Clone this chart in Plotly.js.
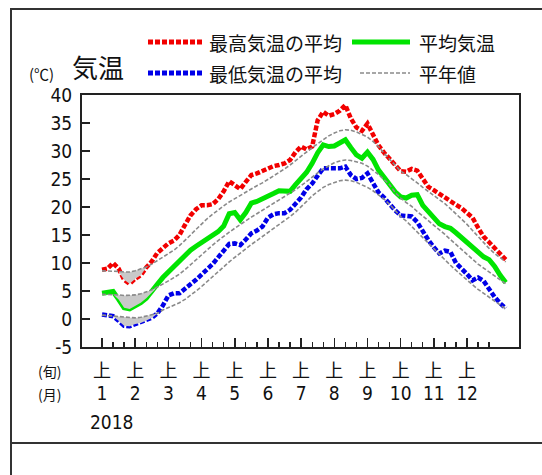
<!DOCTYPE html>
<html>
<head>
<meta charset="utf-8">
<script src="https://cdn.plot.ly/plotly-3.0.1.min.js"></script>
<style>
  html, body { margin:0; padding:0; background:#fff; }
  #wrap { position:relative; width:542px; height:475px; overflow:hidden; }
  #chart { position:absolute; left:0; top:0; width:542px; height:475px; }
  .ln { position:absolute; background:#333; }
</style>
</head>
<body>
<div id="wrap">
  <div class="ln" style="left:10px; top:8px; width:2px; height:467px;"></div>
  <div class="ln" style="left:10px; top:8px; width:532px; height:2px;"></div>
  <div class="ln" style="left:10px; top:442px; width:532px; height:2px;"></div>
  <div id="chart"></div>
</div>
<script>
// 旬 position (0 = 1月上旬), half-旬 steps
const jun = [0,0.5,1,1.5,2,2.5,3,3.5,4,4.5,5,5.5,6,6.5,7,7.5,8,8.5,9,9.5,
  10,10.5,11,11.5,12,12.5,13,13.5,14,14.5,15,15.5,16,16.5,17,17.5,18,18.5,19,19.5,
  20,20.5,21,21.5,22,22.5,23,23.5,24,24.5,25,25.5,26,26.5,27,27.5,28,28.5,29,29.5,
  30,30.5,31,31.5,32,32.5,33,33.5,34,34.5,35,35.5,36,36.5];

// 最高気温の平均
const tmax = [8.8,9.0,10.0,9.0,7.0,6.3,7.2,7.8,9.2,10.3,
  11.8,12.6,13.5,14.0,15.0,16.8,18.5,19.6,20.3,20.3,
  20.5,21.4,22.8,24.6,24.0,23.2,24.5,25.7,26.0,26.4,
  27.0,27.3,27.5,27.8,28.4,29.8,30.8,30.3,30.8,35.5,
  37.0,36.3,36.6,37.2,38.2,35.8,34.2,33.6,34.9,33.0,
  31.0,29.7,28.6,27.6,26.4,26.3,26.8,26.5,24.9,23.6,
  23.0,22.3,21.6,20.9,20.4,19.8,19.0,18.1,16.3,14.7,
  13.7,12.7,11.5,10.6];
// 平均気温
const tmean = [4.6,4.7,4.9,3.5,2.0,1.8,2.3,2.9,3.7,4.8,
  6.2,7.4,8.4,9.3,10.3,11.3,12.3,13.0,13.6,14.3,
  14.9,15.6,16.6,18.8,19.0,17.7,19.0,20.7,21.0,21.4,
  21.9,22.4,22.9,22.9,22.8,24.0,25.0,26.2,27.8,29.7,
  31.1,30.8,30.9,31.4,32.0,30.6,29.3,28.7,29.8,28.5,
  26.6,25.3,24.0,22.7,21.8,21.6,22.1,22.2,20.3,19.3,
  18.2,17.0,16.5,16.2,15.4,14.5,13.7,12.8,11.8,11.1,
  10.6,9.4,7.8,6.5];
// 最低気温の平均
const tmin = [0.8,0.7,0.5,-0.3,-1.2,-1.3,-0.9,-0.7,-0.3,0.2,
  1.0,2.4,4.2,4.6,4.6,5.3,6.2,7.0,7.9,8.8,
  9.8,11.0,12.3,13.4,13.5,13.2,14.2,15.3,15.8,16.5,
  18.1,18.7,18.9,18.9,19.5,20.5,21.7,23.2,24.2,25.6,
  26.9,26.9,26.9,26.9,27.2,25.7,25.0,25.2,26.0,24.3,
  22.6,21.7,20.5,19.4,18.5,18.3,18.3,17.3,15.5,14.1,
  12.8,11.7,12.2,12.0,10.0,9.1,8.0,6.9,7.4,6.8,
  5.2,3.9,2.8,1.9];
// 平年値 (最高・平均・最低)
const nmax = [8.6,8.6,8.6,8.5,8.4,8.4,8.6,8.9,9.3,9.8,
  10.4,11.0,11.6,12.3,13.1,14.0,15.0,16.0,17.0,17.9,
  18.7,19.5,20.2,20.9,21.5,22.1,22.7,23.3,23.8,24.3,
  24.9,25.5,26.1,26.8,27.5,28.3,29.1,29.9,30.6,31.3,
  32.0,32.7,33.2,33.6,33.8,33.7,33.4,33.0,32.5,31.7,
  30.8,29.6,28.5,27.5,26.4,25.8,25.1,24.3,23.5,22.8,
  22.1,21.4,20.6,19.7,18.8,17.9,16.9,15.8,14.7,13.6,
  12.6,11.7,10.9,10.2];
const nmean = [4.4,4.4,4.4,4.3,4.2,4.2,4.3,4.5,4.8,5.2,
  5.7,6.2,6.8,7.4,8.0,8.8,9.7,10.6,11.5,12.4,
  13.2,14.0,14.8,15.5,16.2,16.9,17.6,18.2,18.8,19.4,
  20.0,20.6,21.2,21.8,22.4,23.1,23.8,24.6,25.4,26.1,
  26.8,27.4,27.9,28.2,28.4,28.3,28.1,27.8,27.3,26.6,
  25.8,24.9,24.0,22.6,21.6,20.8,20.1,19.2,18.4,17.6,
  16.8,16.0,15.1,14.2,13.3,12.4,11.5,10.6,9.8,9.1,
  8.4,7.7,7.0,6.3];
const nmin = [0.7,0.6,0.5,0.4,0.3,0.2,0.2,0.3,0.5,0.8,
  1.0,1.6,2.0,2.4,2.9,3.5,4.2,5.0,5.8,6.7,
  7.6,8.5,9.4,10.2,11.0,11.8,12.6,13.3,14.0,14.7,
  15.4,16.1,16.8,17.5,18.3,19.1,20.0,21.0,22.0,22.8,
  23.5,24.0,24.4,24.7,24.8,24.7,24.4,24.0,23.5,22.9,
  22.2,21.4,20.5,19.3,18.3,17.5,16.5,15.5,14.5,13.5,
  12.5,11.5,10.5,9.6,8.7,7.8,6.9,6.1,5.3,4.6,
  3.9,3.2,2.5,1.8];

// axis labels
const monthPos = [0,3,6,9,12,15,18,21,24,27,30,33];
const monthText = ['1','2','3','4','5','6','7','8','9','10','11','12'];
const junText = ['上','上','上','上','上','上','上','上','上','上','上','上'];
const junTicks = [0,1,2,3,4,5,6,7,8,9,10,11,12,13,14,15,16,17,18,19,20,21,22,23,24,25,26,27,28,29,30,31,32,33,34,35];
const yTicks = [-5,0,5,10,15,20,25,30,35,40];
const yearText = '2018';

const RED = '#f20000', BLUE = '#0000e8', GREEN = '#00e400', GRAY = '#8a8a8a', FILL = '#c9c9c9';
const NUMFONT = "'Liberation Sans Narrow', 'DejaVu Sans Condensed', 'Liberation Sans', Arial, sans-serif";
const JPFONT = "'Noto Sans CJK JP', 'Noto Sans', sans-serif";

function below(obs, norm) { return obs.map((v, i) => Math.min(v, norm[i])); }

const traces = [];
[[tmax, nmax], [tmean, nmean], [tmin, nmin]].forEach(([obs, norm]) => {
  traces.push({x: jun, y: norm, xaxis:'x2', type:'scatter', mode:'lines', line:{width:0, color:'rgba(0,0,0,0)'}, hoverinfo:'skip', showlegend:false});
  traces.push({x: jun, y: below(obs, norm), xaxis:'x2', type:'scatter', mode:'lines', fill:'tonexty', fillcolor:FILL, line:{width:0, color:'rgba(0,0,0,0)'}, hoverinfo:'skip', showlegend:false});
});
[nmax, nmean, nmin].forEach(n => {
  traces.push({x: jun, y: n, xaxis:'x2', type:'scatter', mode:'lines', line:{color:GRAY, width:1.6, dash:'4px,2px'}, showlegend:false});
});
traces.push({x: jun, y: tmax, type:'scatter', mode:'lines', name:'最高気温の平均', line:{color:RED, width:4.5, dash:'5px,2px'}, showlegend:false});
traces.push({x: jun, y: tmean, type:'scatter', mode:'lines', name:'平均気温', line:{color:GREEN, width:5}, showlegend:false});
traces.push({x: jun, y: tmin, type:'scatter', mode:'lines', name:'最低気温の平均', line:{color:BLUE, width:4.5, dash:'5px,2px'}, showlegend:false});

const PL = 82, PR = 519, PT = 95, PB = 347;
const px = v => (v - PL) / (PR - PL);
const py = v => (PB - v) / (PB - PT);

const shapes = [
  {type:'line', xref:'paper', yref:'paper', x0:px(148), x1:px(202), y0:py(42), y1:py(42), line:{color:RED, width:5, dash:'5px,2px'}},
  {type:'line', xref:'paper', yref:'paper', x0:px(148), x1:px(202), y0:py(73), y1:py(73), line:{color:BLUE, width:5, dash:'5px,2px'}},
  {type:'line', xref:'paper', yref:'paper', x0:px(352), x1:px(410), y0:py(42), y1:py(42), line:{color:GREEN, width:5}},
  {type:'line', xref:'paper', yref:'paper', x0:px(360), x1:px(410), y0:py(73), y1:py(73), line:{color:GRAY, width:1.3, dash:'4px,2px'}}
];
const ann = (text, x, y, size, xanchor, font) => ({text, xref:'paper', yref:'paper', x:px(x), y:py(y), xanchor: xanchor || 'left', yanchor:'middle', showarrow:false, font:{family: font || JPFONT, size, color:'#111'}});
const annotations = [
  ann('最高気温の平均', 207, 42, 19),
  ann('平均気温', 417, 42, 19),
  ann('最低気温の平均', 207, 73, 19),
  ann('平年値', 417, 73, 19),
  ann('(℃)', 27, 73, 15),
  ann('気温', 70, 67, 26),
  ann('(旬)', 36, 371, 14),
  ann('(月)', 36, 394, 14),
  ann(yearText, 112, 422, 19, 'center', NUMFONT)
];

const layout = {
  width:542, height:475,
  margin:{l:PL, r:542-PR, t:PT, b:475-PB, pad:0},
  paper_bgcolor:'rgba(0,0,0,0)', plot_bgcolor:'#ffffff',
  showlegend:false,
  xaxis:{range:[-1.81, 37.7], tickmode:'array', tickvals:monthPos, ticktext:monthText,
    ticks:'inside', ticklen:9, tickwidth:1.5, tickcolor:'#222',
    minor:{tickmode:'array', tickvals:junTicks, ticks:'inside', ticklen:5, tickwidth:1.3, tickcolor:'#222'},
    showline:true, linecolor:'#222', linewidth:2, mirror:true, showgrid:false, zeroline:false,
    ticklabelstandoff:28, tickfont:{family:NUMFONT, size:19, color:'#111'}},
  xaxis2:{overlaying:'x', matches:'x', anchor:'y', side:'bottom', tickmode:'array', tickvals:monthPos, ticktext:junText,
    ticks:'', showline:false, showgrid:false, zeroline:false,
    ticklabelstandoff:11, tickfont:{family:JPFONT, size:18, color:'#111'}},
  yaxis:{range:[-5, 40], tickmode:'array', tickvals:yTicks, ticktext:yTicks.map(String),
    ticks:'inside', ticklen:8, tickwidth:1.5, tickcolor:'#222',
    showline:true, linecolor:'#222', linewidth:2, mirror:true, showgrid:false, zeroline:false,
    ticklabelstandoff:4, tickfont:{family:NUMFONT, size:19, color:'#111'}},
  shapes, annotations
};

Plotly.newPlot('chart', traces, layout, {displayModeBar:false, staticPlot:true});
</script>
</body>
</html>
